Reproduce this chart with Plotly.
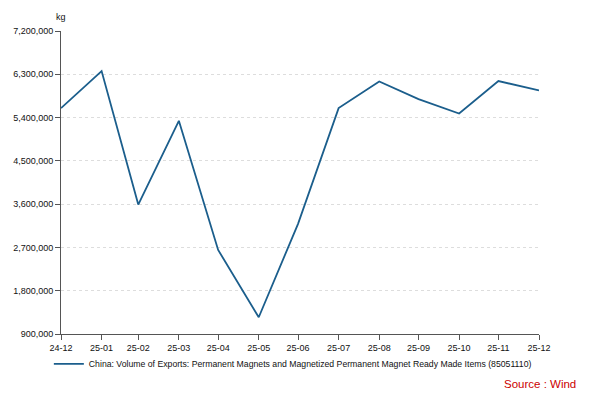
import plotly.graph_objects as go

dates = ["2024-12-31", "2025-01-31", "2025-02-28", "2025-03-31", "2025-04-30",
         "2025-05-31", "2025-06-30", "2025-07-31", "2025-08-31", "2025-09-30",
         "2025-10-31", "2025-11-30", "2025-12-31"]
month_labels = ["24-12", "25-01", "25-02", "25-03", "25-04", "25-05", "25-06",
                "25-07", "25-08", "25-09", "25-10", "25-11", "25-12"]
export_kg = [5597000, 6367000, 3591000, 5333000, 2648000, 1248000, 3190000,
             5597000, 6151000, 5785000, 5485000, 6160000, 5964000]
y_ticks = [900000, 1800000, 2700000, 3600000, 4500000, 5400000, 6300000, 7200000]
series_name = ("China: Volume of Exports: Permanent Magnets and Magnetized "
               "Permanent Magnet Ready Made Items (85051110)")

FONT = "Liberation Sans, Arial, Helvetica, sans-serif"
LINE = "#1b5e8c"

fig = go.Figure()
fig.add_trace(go.Scatter(
    x=dates, y=export_kg, mode="lines", name=series_name,
    line=dict(color=LINE, width=1.8),
))

fig.update_layout(
    width=592, height=392,
    margin=dict(l=53, r=61, t=23, b=66, autoexpand=False),
    paper_bgcolor="white", plot_bgcolor="white",
    font=dict(family=FONT, size=9, color="#111"),
    showlegend=True,
    legend=dict(
        orientation="h", xref="container", yref="container",
        x=0.069, y=0.092, xanchor="left", yanchor="middle",
        font=dict(size=8.7, color="#111"), bgcolor="rgba(0,0,0,0)",
    ),
    xaxis=dict(
        type="date", range=[dates[0], dates[-1]],
        tickvals=dates, ticktext=month_labels, automargin=False,
        showgrid=False, showline=True, linecolor="#555", linewidth=1,
        ticks="outside", ticklen=5, tickcolor="#555",
        tickfont=dict(size=9, color="#111"), zeroline=False,
    ),
    yaxis=dict(
        range=[y_ticks[0], y_ticks[-1]], tickvals=y_ticks, tickformat=",",
        automargin=False,
        showgrid=True, gridcolor="#dddddd", griddash="3px,3px", gridwidth=1,
        showline=True, linecolor="#555", linewidth=1,
        ticks="outside", ticklen=5, tickcolor="#555",
        tickfont=dict(size=9, color="#111"), zeroline=False,
    ),
    annotations=[
        dict(text="kg", xref="paper", yref="paper", x=0, y=1.047,
             xanchor="center", yanchor="middle", showarrow=False,
             font=dict(size=9, color="#111")),
        dict(text="Source : Wind", xref="paper", yref="paper", x=1.0815, y=-0.165,
             xanchor="right", yanchor="middle", showarrow=False,
             font=dict(size=11.5, color="#cc0000")),
    ],
)

fig.write_html("out.html")
